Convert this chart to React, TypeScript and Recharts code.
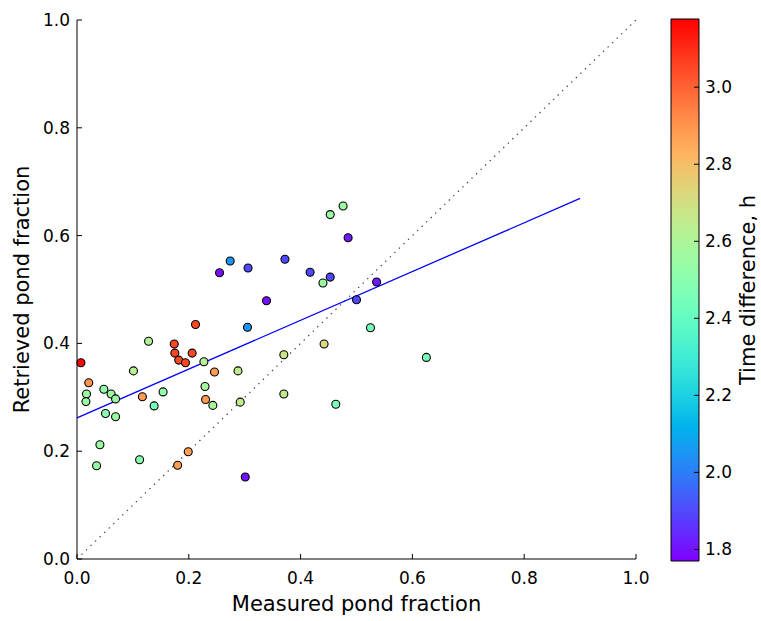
import React from 'react';
import {
  ScatterChart, Scatter, XAxis, YAxis, ReferenceLine, ComposedChart, ReferenceArea,
} from 'recharts';

// measured vs retrieved pond fraction, colour = time difference (h)
const measured = [
  0.007, 0.021, 0.017, 0.016, 0.035, 0.041, 0.048, 0.051, 0.061, 0.069,
  0.069, 0.101, 0.112, 0.117, 0.128, 0.138, 0.154, 0.174, 0.175, 0.182,
  0.194, 0.180, 0.199, 0.206, 0.212, 0.227, 0.229, 0.230, 0.243, 0.246,
  0.255, 0.274, 0.288, 0.292, 0.301, 0.306, 0.305, 0.339, 0.370, 0.370,
  0.372, 0.417, 0.442, 0.440, 0.453, 0.453, 0.463, 0.476, 0.485, 0.500,
  0.536, 0.525, 0.625,
];
const retrieved = [
  0.364, 0.327, 0.306, 0.292, 0.173, 0.212, 0.315, 0.270, 0.306, 0.297,
  0.264, 0.349, 0.184, 0.301, 0.404, 0.284, 0.310, 0.399, 0.382, 0.369,
  0.364, 0.174, 0.199, 0.382, 0.435, 0.366, 0.320, 0.296, 0.285, 0.347,
  0.531, 0.553, 0.349, 0.291, 0.152, 0.540, 0.430, 0.479, 0.379, 0.306,
  0.556, 0.532, 0.399, 0.512, 0.639, 0.523, 0.287, 0.655, 0.596, 0.481,
  0.514, 0.429, 0.374,
];
const timeDiff = [
  3.17, 2.90, 2.55, 2.55, 2.55, 2.55, 2.52, 2.50, 2.55, 2.55,
  2.55, 2.62, 2.50, 2.88, 2.62, 2.45, 2.52, 3.05, 3.05, 3.05,
  3.05, 2.88, 2.88, 3.05, 3.05, 2.62, 2.58, 2.88, 2.60, 2.88,
  1.80, 2.05, 2.65, 2.65, 1.80, 1.90, 2.05, 1.80, 2.68, 2.65,
  1.90, 1.90, 2.72, 2.55, 2.55, 1.90, 2.45, 2.55, 1.82, 1.90,
  1.82, 2.45, 2.45,
];

const axisTicks = [0, 0.2, 0.4, 0.6, 0.8, 1.0];
const fitX = [0, 0.9];
const fitY = [0.262, 0.669];

const cbarMin = 1.77;
const cbarMax = 3.177;
const cbarTicks = [1.8, 2.0, 2.2, 2.4, 2.6, 2.8, 3.0];

// matplotlib 'rainbow'
function rainbow(t: number) {
  const c = (v: number) => Math.round(Math.max(0, Math.min(1, v)) * 255);
  const r = Math.abs(2 * t - 0.5);
  const g = Math.sin(Math.PI * t);
  const b = Math.cos((Math.PI * t) / 2);
  return `rgb(${c(r)},${c(g)},${c(b)})`;
}
const colorOf = (v: number) => rainbow((v - cbarMin) / (cbarMax - cbarMin));

const points = measured.map((m, i) => ({ x: m, y: retrieved[i], t: timeDiff[i] }));

const font = '"DejaVu Sans", sans-serif';
const tickStyle = { fontSize: 17, fill: '#000', fontFamily: font };
const labelStyle = { fontSize: 21, fill: '#000', fontFamily: font, textAnchor: 'middle' as const };
const fmt = (v: number) => v.toFixed(1);

const Dot = (props: any) => {
  const { cx, cy, payload } = props;
  return <circle cx={cx} cy={cy} r={4} fill={colorOf(payload.t)} stroke="#000" strokeWidth={1.1} />;
};

export default function App() {
  const stops = [];
  for (let i = 0; i <= 40; i++) {
    stops.push(<stop key={i} offset={`${(i / 40) * 100}%`} stopColor={rainbow(1 - i / 40)} />);
  }
  return (
    <div style={{ position: 'absolute', left: 0, top: 0, width: 761, height: 621, background: '#fff' }}>
      <div style={{ position: 'absolute', left: 0, top: 0 }}>
        <ScatterChart width={660} height={621} margin={{ top: 20, right: 24, bottom: 0, left: 0 }}>
          <XAxis
            type="number" dataKey="x" domain={[0, 1]} ticks={axisTicks} tickFormatter={fmt}
            height={62} tickSize={-5} tickMargin={18} tick={tickStyle}
            stroke="#000" tickLine={{ stroke: '#000' }} interval={0}
            label={{ value: 'Measured pond fraction', position: 'insideBottom', offset: 10, style: labelStyle }}
          />
          <XAxis
            xAxisId="top" orientation="top" type="number" domain={[0, 1]} ticks={axisTicks}
            height={0} tickSize={-5} tickFormatter={() => ''} stroke="#000" tickLine={{ stroke: '#000' }}
          />
          <YAxis
            type="number" dataKey="y" domain={[0, 1]} ticks={axisTicks} tickFormatter={fmt}
            width={77} tickSize={-5} tickMargin={12} tick={tickStyle}
            stroke="#000" tickLine={{ stroke: '#000' }} interval={0}
            label={{ value: 'Retrieved pond fraction', angle: -90, position: 'insideLeft', offset: 22, style: labelStyle }}
          />
          <YAxis
            yAxisId="right" orientation="right" type="number" domain={[0, 1]} ticks={axisTicks}
            width={0} tickSize={-5} tickFormatter={() => ''} stroke="#000" tickLine={{ stroke: '#000' }}
          />
          <ReferenceLine
            segment={[{ x: 0, y: 0 }, { x: 1, y: 1 }]}
            stroke="#444" strokeWidth={1.3} strokeDasharray="1.3 5"
          />
          <ReferenceLine
            segment={[{ x: fitX[0], y: fitY[0] }, { x: fitX[1], y: fitY[1] }]}
            stroke="#0000ff" strokeWidth={1.3}
          />
          <Scatter data={points} shape={<Dot />} isAnimationActive={false} />
        </ScatterChart>
      </div>
      <div style={{ position: 'absolute', left: 640, top: 0 }}>
        <ComposedChart
          width={121} height={621} margin={{ top: 19, right: 0, bottom: 60, left: 31 }}
          data={[{ x: 0, v: cbarMin }, { x: 1, v: cbarMax }]}
        >
          <defs>
            <linearGradient id="cbar" x1="0" y1="0" x2="0" y2="1">
              {stops}
            </linearGradient>
          </defs>
          <XAxis type="number" dataKey="x" domain={[0, 1]} hide height={0} />
          <YAxis
            orientation="right" type="number" dataKey="v" domain={[cbarMin, cbarMax]}
            ticks={cbarTicks} tickFormatter={fmt} width={62} tickSize={-5} tickMargin={11}
            tick={{ ...tickStyle, textAnchor: 'start' }} axisLine={false} tickLine={{ stroke: '#000' }} interval={0}
            label={{ value: 'Time difference, h', angle: -90, position: 'insideRight', offset: 13, style: labelStyle }}
          />
          <ReferenceArea
            x1={0} x2={1} y1={cbarMin} y2={cbarMax}
            fill="url(#cbar)" fillOpacity={1} stroke="#000" strokeWidth={1} ifOverflow="visible"
          />
        </ComposedChart>
      </div>
    </div>
  );
}
